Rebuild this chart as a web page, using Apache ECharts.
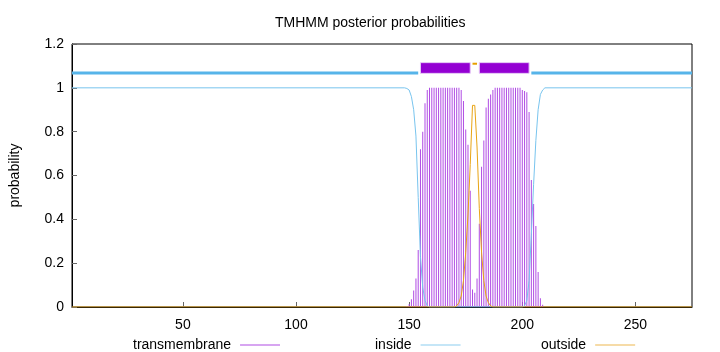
<!DOCTYPE html>
<html>
<head>
<meta charset="utf-8">
<script src="https://cdn.jsdelivr.net/npm/echarts@6/dist/echarts.min.js"></script>
<style>
  html, body { margin: 0; padding: 0; background: #fff; }
  #box { width: 720px; height: 352px; }
</style>
</head>
<body>
<div id="box"></div>
<script>
// posterior probability of transmembrane, one value per residue from tmFirst
const tmFirst = 149
const tmValues = [0.005, 0.014, 0.035, 0.075, 0.13, 0.26, 0.72, 0.80, 0.93, 0.99,
  1, 1, 1, 1, 1, 1, 1, 1, 1, 1, 1, 1, 1, 1,
  0.99, 0.94, 0.81, 0.74, 0.53, 0.08, 0.065, 0.13, 0.38, 0.64, 0.76, 0.91, 0.95, 0.97, 0.99,
  1, 1, 1, 1, 1, 1, 1, 1, 1, 1, 1, 1,
  0.99, 0.985, 0.98, 0.89, 0.58, 0.47, 0.37, 0.16, 0.04, 0.01]

// inside / outside curves as [residue, probability]
const insidePoints = [[1, 1], [148, 1], [149, 0.997], [150, 0.99], [151, 0.96], [152, 0.9],
  [153, 0.78], [154, 0.5], [155, 0.23], [156, 0.09], [157, 0.03], [158, 0.005], [159, 0],
  [200, 0], [201, 0.005], [202, 0.03], [203, 0.12], [204, 0.33], [205, 0.56], [206, 0.76],
  [207, 0.9], [208, 0.97], [209, 0.99], [210, 1], [275, 1]]
const outsidePoints = [[1, 0], [170, 0], [171, 0.005], [172, 0.02], [173, 0.05], [174, 0.12],
  [175, 0.25], [176, 0.42], [177, 0.65], [178, 0.92], [179, 0.92], [180, 0.73], [181, 0.45],
  [182, 0.25], [183, 0.12], [184, 0.05], [185, 0.02], [186, 0.005], [187, 0], [275, 0]]

// predicted topology (top bar)
const insideSegments = [[1, 154], [204, 275]]
const tmSegments = [[155, 177], [181, 203]]
const outsideSegments = [[178, 180]]

const xTicks = [50, 100, 150, 200, 250]
const seqLength = 275

const fontName = 'Liberation Sans'
const tmData = tmValues.map((v, i) => [tmFirst + i, v])

function segLine(level, color, width) {
  return function (params, api) {
    const a = api.coord([api.value(0), level])
    const b = api.coord([api.value(1), level])
    return {
      type: 'line',
      shape: { x1: a[0], y1: a[1], x2: b[0], y2: b[1] },
      style: { stroke: color, lineWidth: width }
    }
  }
}

const chart = echarts.init(document.getElementById('box'))
const option = {
  animation: false,
  title: {
    text: 'TMHMM posterior probabilities',
    left: 270, top: 11,
    textStyle: { fontFamily: fontName, fontSize: 14, fontWeight: 'normal', color: '#000' }
  },
  legend: [
    { data: ['transmembrane'], left: 128, top: 333, align: 'right' },
    { data: ['inside'], left: 370, top: 333, align: 'right' },
    { data: ['outside'], left: 536, top: 333, align: 'right' }
  ].map(l => Object.assign(l, {
    icon: 'rect', itemWidth: 40, itemHeight: 1, itemGap: 8,
    textStyle: { fontFamily: fontName, fontSize: 14, color: '#000', padding: [0, 4, 0, 0] }
  })),
  grid: { left: 72, right: 28, top: 44, bottom: 45, show: true, borderColor: '#000', borderWidth: 1 },
  xAxis: {
    type: 'value', min: 1, max: seqLength,
    splitLine: { show: false },
    axisLine: { lineStyle: { color: '#000' } },
    axisTick: { inside: true, length: 5, customValues: xTicks, lineStyle: { color: '#666' } },
    axisLabel: { customValues: xTicks, fontFamily: fontName, fontSize: 14, color: '#000', margin: 11 }
  },
  yAxis: {
    type: 'value', min: 0, max: 1.2, interval: 0.2,
    name: 'probability', nameLocation: 'middle', nameGap: 50,
    nameTextStyle: { fontFamily: fontName, fontSize: 14, color: '#000' },
    splitLine: { show: false },
    axisLine: { show: true, lineStyle: { color: '#000' } },
    axisTick: { show: true, inside: true, length: 5, lineStyle: { color: '#666' } },
    axisLabel: { fontFamily: fontName, fontSize: 14, color: '#000', margin: 8 }
  },
  series: [
    {
      name: 'transmembrane', type: 'bar', data: tmData, barWidth: 1,
      itemStyle: { color: '#b04ce4' }
    },
    {
      name: 'inside', type: 'line', data: insidePoints, symbol: 'none',
      lineStyle: { color: '#78c4ee', width: 1 }, itemStyle: { color: '#8ccdf0' }
    },
    {
      name: 'outside', type: 'line', data: outsidePoints, symbol: 'none',
      lineStyle: { color: '#e8a414', width: 1 }, itemStyle: { color: '#edb850' }
    },
    {
      type: 'custom', data: insideSegments, renderItem: segLine(1.068, '#56b4e9', 3)
    },
    {
      type: 'custom', data: outsideSegments, renderItem: segLine(1.11, '#e69f00', 2)
    },
    {
      type: 'custom', data: tmSegments,
      renderItem: function (params, api) {
        const a = api.coord([api.value(0), 1.115])
        const b = api.coord([api.value(1), 1.066])
        return {
          type: 'rect',
          shape: { x: a[0], y: a[1], width: b[0] - a[0], height: b[1] - a[1] },
          style: { fill: '#9400d3', stroke: '#e6c8f6', lineWidth: 1 }
        }
      }
    }
  ]
}
chart.setOption(option)
</script>
</body>
</html>
